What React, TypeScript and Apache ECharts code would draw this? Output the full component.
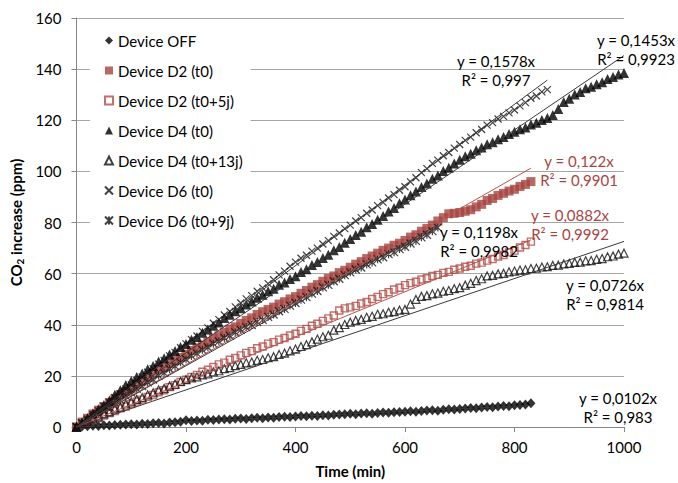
import React, { useEffect, useRef } from "react";
import * as echarts from "echarts";

// Time grid (min)
const TIME = [
  0, 10, 20, 30, 40, 50, 60, 70, 80, 90,
  100, 110, 120, 130, 140, 150, 160, 170, 180, 190,
  200, 210, 220, 230, 240, 250, 260, 270, 280, 290,
  300, 310, 320, 330, 340, 350, 360, 370, 380, 390,
  400, 410, 420, 430, 440, 450, 460, 470, 480, 490,
  500, 510, 520, 530, 540, 550, 560, 570, 580, 590,
  600, 610, 620, 630, 640, 650, 660, 670, 680, 690,
  700, 710, 720, 730, 740, 750, 760, 770, 780, 790,
  800, 810, 820, 830, 840, 850, 860, 870, 880, 890,
  900, 910, 920, 930, 940, 950, 960, 970, 980, 990,
  1000,
];

const SERIES_NAMES = [
  "Device OFF",
  "Device D2 (t0)",
  "Device D2 (t0+5j)",
  "Device D4 (t0)",
  "Device D4 (t0+13j)",
  "Device D6 (t0)",
  "Device D6 (t0+9j)",
];

const DEVICE_OFF = [
  0, 0.2, 0.3, 0.5, 0.4, 0.7, 0.6, 0.8, 0.9, 1.0,
  1.1, 1.0, 1.3, 1.2, 1.5, 1.6, 1.4, 1.8, 1.9, 2.1,
  2.6, 2.3, 2.5, 2.4, 2.8, 2.7, 2.9, 3.0, 2.9, 3.2,
  3.3, 3.1, 3.4, 3.6, 3.4, 3.7, 3.6, 3.9, 4.0, 3.9,
  4.1, 4.3, 4.2, 4.4, 4.3, 4.6, 4.5, 4.8, 4.9, 5.0,
  5.2, 5.0, 5.3, 5.4, 5.2, 5.5, 5.7, 5.6, 5.8, 5.9,
  6.0, 6.2, 6.0, 6.3, 6.5, 6.6, 6.4, 6.7, 6.9, 6.8,
  7.0, 7.2, 7.4, 7.3, 7.6, 7.8, 7.7, 8.0, 8.2, 8.1,
  8.5, 8.6, 8.8, 9.3,
];

const D2_T0 = [
  0, 1.9, 3.4, 5.1, 6.6, 8.0, 9.6, 11.0, 12.6, 13.8,
  15.0, 16.6, 18.0, 19.4, 21.1, 22.5, 23.4, 24.9, 26.0, 27.2,
  28.5, 29.9, 31.0, 32.1, 33.3, 34.6, 35.7, 37.0, 38.3, 39.2,
  40.5, 41.7, 42.7, 44.0, 45.1, 46.0, 46.9, 48.1, 49.0, 50.1,
  51.0, 52.3, 53.4, 54.7, 55.7, 57.0, 58.1, 59.1, 60.4, 61.3,
  62.5, 63.7, 64.7, 65.9, 66.9, 68.0, 69.1, 70.0, 71.1, 71.9,
  73.0, 74.3, 75.2, 76.6, 77.7, 79.0, 80.6, 81.9, 83.4, 83.6,
  83.9, 84.4, 85.0, 86.1, 87.1, 88.6, 89.4, 90.6, 91.4, 92.3,
  93.0, 94.1, 94.9, 96.0,
];

const D2_T0_5J = [
  0, 0.9, 1.6, 2.7, 3.5, 4.5, 5.5, 6.2, 7.3, 8.0,
  9.0, 10.0, 10.7, 11.8, 12.5, 13.6, 14.4, 15.6, 16.4, 17.6,
  18.5, 19.6, 20.4, 21.6, 22.4, 23.5, 24.5, 25.2, 26.3, 27.0,
  28.0, 29.0, 29.7, 30.8, 31.5, 32.6, 33.2, 34.2, 34.8, 35.8,
  36.5, 37.6, 38.4, 39.6, 40.4, 41.5, 42.5, 43.6, 45.6, 46.4,
  46.8, 47.4, 48.3, 48.9, 50.1, 50.9, 52.0, 52.7, 53.8, 54.5,
  55.5, 56.3, 56.8, 57.7, 58.2, 59.1, 59.5, 60.3, 60.7, 61.5,
  62.0, 62.7, 63.1, 63.9, 64.3, 65.1, 65.7, 66.7, 67.3, 68.3,
  69.0, 70.2, 71.2, 72.5,
];

const D4_T0 = [
  0, 1.9, 3.5, 5.4, 6.9, 8.6, 10.4, 12.6, 14.4, 16.4,
  18.0, 19.6, 20.9, 22.6, 23.9, 25.6, 26.9, 28.4, 29.7, 31.3,
  32.5, 34.1, 35.2, 36.9, 38.1, 39.6, 40.9, 42.6, 43.9, 45.3,
  46.5, 47.9, 49.1, 50.6, 51.7, 53.1, 54.1, 55.6, 56.5, 57.9,
  59.0, 60.6, 61.7, 63.4, 64.5, 66.1, 67.4, 69.1, 70.4, 72.1,
  73.5, 75.1, 76.4, 78.1, 79.4, 81.1, 82.5, 84.3, 85.7, 87.5,
  89.0, 90.7, 92.1, 93.9, 95.3, 97.1, 98.4, 100.1, 101.4, 103.1,
  104.5, 105.9, 106.9, 108.3, 109.3, 110.6, 111.4, 112.6, 113.4, 114.6,
  115.5, 116.5, 117.2, 118.3, 119.0, 120.1, 120.9, 122.1, 124.4, 127.1,
  128.4, 130.1, 131.1, 132.5, 133.1, 134.1, 134.9, 136.1, 136.9, 137.9,
  138.5,
];

const D4_T0_13J = [
  0, 1.2, 2.0, 3.2, 4.0, 5.1, 5.9, 7.1, 7.8, 9.0,
  9.8, 10.8, 11.5, 12.6, 13.4, 14.5, 15.1, 16.1, 16.8, 17.8,
  18.5, 19.2, 19.6, 20.4, 20.8, 21.6, 22.0, 22.8, 23.2, 24.0,
  24.5, 25.1, 25.4, 26.1, 26.4, 27.1, 27.5, 28.4, 28.9, 29.8,
  30.5, 31.5, 32.2, 33.3, 34.4, 35.3, 35.9, 37.9, 38.9, 40.1,
  41.0, 41.7, 42.1, 42.9, 43.3, 44.1, 44.3, 44.9, 45.1, 45.7,
  46.0, 48.1, 49.9, 51.1, 51.4, 52.1, 52.4, 53.1, 53.4, 54.1,
  54.5, 55.5, 56.2, 57.3, 58.0, 59.1, 59.3, 59.9, 60.1, 60.7,
  61.0, 61.4, 61.5, 62.0, 62.1, 62.6, 62.7, 63.2, 63.3, 63.8,
  64.0, 64.4, 64.5, 65.0, 65.1, 65.6, 65.9, 66.6, 66.9, 67.6,
  68.0,
];

const D6_T0 = [
  0, 1.7, 3.1, 4.9, 6.3, 8.1, 9.6, 11.5, 13.0, 14.9,
  16.5, 18.2, 19.6, 21.4, 22.8, 24.6, 26.0, 27.8, 29.2, 31.0,
  32.5, 34.2, 35.6, 37.4, 38.8, 40.6, 42.0, 43.8, 45.2, 47.0,
  48.5, 50.1, 51.4, 53.1, 54.4, 56.1, 57.6, 59.5, 61.0, 62.9,
  64.5, 66.0, 67.2, 68.8, 70.0, 71.6, 72.9, 74.6, 75.9, 77.6,
  79.0, 80.6, 81.9, 83.6, 84.9, 86.6, 87.9, 89.6, 90.9, 92.6,
  94.0, 95.9, 97.5, 99.5, 101.1, 103.1, 104.4, 106.1, 107.4, 109.1,
  110.5, 112.1, 113.4, 115.1, 116.4, 118.1, 119.1, 120.5, 121.5, 122.9,
  124.0, 125.6, 126.9, 128.6, 129.5, 131.1, 132.0,
];

const D6_T0_9J = [
  0, 1.4, 2.5, 4.0, 5.1, 6.6, 7.8, 9.4, 10.6, 12.2,
  13.5, 14.9, 16.0, 17.5, 18.6, 20.1, 21.2, 22.7, 23.8, 25.3,
  26.5, 27.8, 28.8, 30.2, 31.2, 32.6, 33.5, 34.8, 35.7, 37.0,
  38.0, 39.1, 39.9, 41.1, 41.9, 43.1, 44.0, 45.3, 46.2, 47.5,
  48.5, 49.8, 50.8, 52.2, 53.2, 54.6, 55.6, 57.0, 58.0, 59.4,
  60.5, 61.6, 62.4, 63.6, 64.4, 65.6, 66.4, 67.6, 68.4, 69.6,
  70.5, 71.8, 72.8, 74.2, 75.2, 76.6, 78.0,
];

const SERIES_VALUES = [DEVICE_OFF, D2_T0, D2_T0_5J, D4_T0, D4_T0_13J, D6_T0, D6_T0_9J];

// Linear trendlines through origin (Excel): slope and R²
const TREND_SLOPES = [0.0102, 0.122, 0.0882, 0.1453, 0.0726, 0.1578, 0.1198];
const TREND_EQ = ["y = 0,0102x", "y = 0,122x", "y = 0,0882x", "y = 0,1453x", "y = 0,0726x", "y = 0,1578x", "y = 0,1198x"];
const TREND_R2 = ["R² = 0,983", "R² = 0,9901", "R² = 0,9992", "R² = 0,9923", "R² = 0,9814", "R² = 0,997", "R² = 0,9982"];

// Axis ticks
const X_MIN = 0, X_MAX = 1000, X_STEP = 200;
const Y_MIN = 0, Y_MAX = 160, Y_STEP = 20;

const RED = "#a5433e";
const RED_STROKE = "#b24c47";
const BLACK = "#000000";
const FONT = "Lato, 'Open Sans', sans-serif";

const X_PATH = "path://M0,0L10,10M10,0L0,10";
const STAR_PATH = "path://M0,0L10,10M10,0L0,10M5,0L5,10";

// marker styles per series
const STYLES: any[] = [
  { symbol: "diamond", symbolSize: [9, 10], itemStyle: { color: BLACK } },
  { symbol: "rect", symbolSize: 9, itemStyle: { color: RED } },
  { symbol: "rect", symbolSize: 7, itemStyle: { color: "rgba(255,255,255,0)", borderColor: RED_STROKE, borderWidth: 1.4 } },
  { symbol: "triangle", symbolSize: 10, itemStyle: { color: BLACK } },
  { symbol: "triangle", symbolSize: 8, itemStyle: { color: "rgba(255,255,255,0)", borderColor: "#111", borderWidth: 1.2 } },
  { symbol: X_PATH, symbolSize: 7, itemStyle: { color: "rgba(255,255,255,0)", borderColor: "#111", borderWidth: 1.2 } },
  { symbol: STAR_PATH, symbolSize: 8, itemStyle: { color: "rgba(255,255,255,0)", borderColor: "#111", borderWidth: 1.2 } },
];
const TREND_COLORS = ["#3a3a3a", "#b5544f", "#b5544f", "#3a3a3a", "#3a3a3a", "#3a3a3a", "#3a3a3a"];
const LABEL_COLORS = [BLACK, "#a9453f", "#a9453f", BLACK, BLACK, BLACK, BLACK];
// label centres (pixels) for each trendline annotation
const LABEL_POS = [
  [618, 407],
  [579, 170],
  [570, 224],
  [636, 49],
  [605, 294],
  [496, 70],
  [479, 241],
];

export default function App() {
  const ref = useRef<HTMLDivElement>(null);
  useEffect(() => {
    document.body.style.margin = "0";
    const chart = echarts.init(ref.current!, null, { renderer: "svg" });

    const scatter = SERIES_NAMES.map((name, k) => ({
      name,
      type: "scatter",
      z: 2,
      data: SERIES_VALUES[k].map((v, i) => [TIME[i], v]),
      ...STYLES[k],
    }));
    const trends = SERIES_NAMES.map((name, k) => {
      const end = TIME[SERIES_VALUES[k].length - 1];
      return {
        name: "trend " + name,
        type: "line",
        z: 3,
        symbol: "none",
        silent: true,
        lineStyle: { color: TREND_COLORS[k], width: 1 },
        data: [
          [0, 0],
          [end, TREND_SLOPES[k] * end],
        ],
      };
    });

    const labels = SERIES_NAMES.map((_, k) => ({
      type: "text",
      x: LABEL_POS[k][0],
      y: LABEL_POS[k][1],
      z: 10,
      style: {
        text: TREND_EQ[k] + "\n" + TREND_R2[k],
        fill: LABEL_COLORS[k],
        fontSize: 15,
        fontFamily: FONT,
        align: "center",
        verticalAlign: "middle",
        lineHeight: 19,
      },
    }));

    chart.setOption({
      animation: false,
      backgroundColor: "#fff",
      grid: { left: 73, right: 54, top: 18, bottom: 55 },
      legend: {
        data: SERIES_NAMES,
        orient: "vertical",
        left: 90,
        top: 25,
        padding: [8, 8, 8, 14],
        itemGap: 15,
        itemWidth: 8,
        itemHeight: 8,
        backgroundColor: "#fff",
        textStyle: { fontSize: 15, fontFamily: FONT, color: "#000", lineHeight: 15 },
      },
      xAxis: {
        type: "value",
        min: X_MIN,
        max: X_MAX,
        interval: X_STEP,
        name: "Time (min)",
        nameLocation: "middle",
        nameGap: 36,
        nameTextStyle: { fontSize: 15, fontWeight: "bold", fontFamily: FONT, color: "#000" },
        splitLine: { show: false },
        axisLine: { show: true, lineStyle: { color: "#868686" } },
        axisTick: { show: true, length: 5, lineStyle: { color: "#868686" } },
        axisLabel: { fontSize: 15, fontFamily: FONT, color: "#000", margin: 12, formatter: (v: number) => String(v) },
      },
      yAxis: {
        type: "value",
        min: Y_MIN,
        max: Y_MAX,
        interval: Y_STEP,
        name: "{a|CO}{b|2}{a| increase (ppm)}",
        nameLocation: "middle",
        nameGap: 48,
        nameRotate: 90,
        nameTextStyle: {
          rich: {
            a: { fontSize: 15, fontWeight: "bold", fontFamily: FONT, color: "#000" },
            b: { fontSize: 10, fontWeight: "bold", fontFamily: FONT, color: "#000", padding: [8, 0, 0, 0] },
          },
        },
        splitLine: { show: true, lineStyle: { color: "#a6a6a6", width: 1 } },
        axisLine: { show: true, lineStyle: { color: "#868686" } },
        axisTick: { show: true, length: 5, lineStyle: { color: "#868686" } },
        axisLabel: { fontSize: 15, fontFamily: FONT, color: "#000", margin: 15, formatter: (v: number) => String(v) },
      },
      series: [...scatter, ...trends],
      graphic: labels,
    });
    return () => chart.dispose();
  }, []);
  return <div ref={ref} style={{ width: 678, height: 483 }} />;
}
